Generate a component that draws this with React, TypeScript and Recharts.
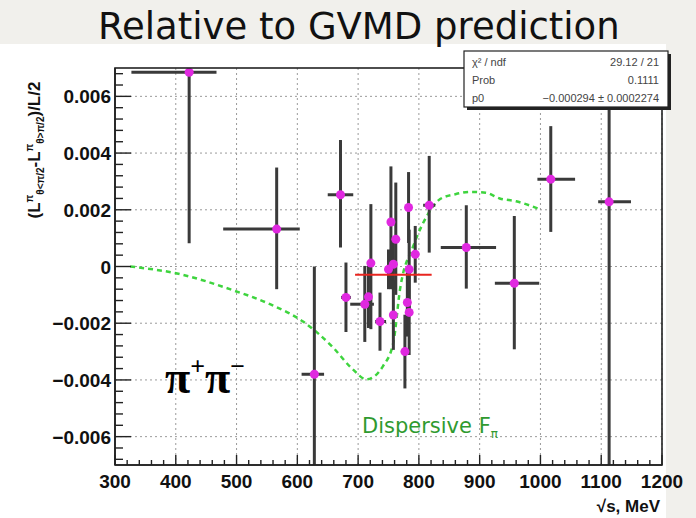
import React from 'react';
import { ComposedChart, Scatter, Line, XAxis, YAxis, CartesianGrid, ErrorBar } from 'recharts';

// measured points: sqrt(s) in MeV, relative asymmetry, asymmetric errors
const massX = [422, 566, 671, 628, 680, 721, 711, 717, 736, 754, 762, 758, 750, 758, 783, 781, 784, 777, 794, 784, 817, 878, 957, 1017, 1113];
const asym = [0.00685, 0.00132, 0.00253, -0.0038, -0.00109, 0.00012, -0.00133, -0.00107, -0.00194, 0.00157, 0.00096, 0.00008, -0.0001, -0.00171, 0.00208, -0.00127, -0.00162, -0.003, 0.00043, -0.0001, 0.00216, 0.00067, -0.00059, 0.00308, 0.00228];
const xErrLo = [95, 88, 21, 21, 8, 6, 24, 5, 8, 4, 4, 4, 4, 4, 4, 4, 4, 4, 6, 4, 10, 42, 32, 22, 18];
const xErrHi = [45, 38, 21, 16, 8, 6, 15, 5, 10, 4, 4, 4, 4, 4, 4, 4, 4, 4, 6, 4, 10, 49, 41, 40, 36];
const yErrLo = [0.00603, 0.00212, 0.00186, 0.0032, 0.00122, 0.00233, 0.00133, 0.0011, 0.00103, 0.00237, 0.00196, 0.0009, 0.0007, 0.00123, 0.00125, 0.0012, 0.0015, 0.0013, 0.001, 0.0014, 0.00167, 0.00145, 0.00233, 0.00186, 0.00928];
const yErrHi = [0.00015, 0.00217, 0.00193, 0.0038, 0.00123, 0.00208, 0.00135, 0.0011, 0.00102, 0.00196, 0.002, 0.0009, 0.0007, 0.00123, 0.00125, 0.0012, 0.0015, 0.0013, 0.001, 0.0014, 0.00174, 0.00149, 0.00237, 0.00187, 0.00472];

// dispersive F_pi prediction (green dashed)
const curveX = [325, 407, 489, 555, 610, 659, 690, 714, 741, 758, 769, 791, 815, 835, 860, 884, 910, 933, 960, 998];
const curveY = [0, -0.00027, -0.0008, -0.00133, -0.00195, -0.00286, -0.0036, -0.00398, -0.00351, -0.00268, -0.0008, 0.00073, 0.00185, 0.00238, 0.00255, 0.00263, 0.0026, 0.0024, 0.0023, 0.00203];

// constant fit p0
const fitRange = [695, 821];
const fitP0 = -0.000294;

const xMajor = [300, 400, 500, 600, 700, 800, 900, 1000, 1100, 1200];
const yMajor = [-0.006, -0.004, -0.002, 0, 0.002, 0.004, 0.006];

const statsRows = [
  ['χ² / ndf', '29.12 / 21'],
  ['Prob', '0.1111'],
  ['p0', '−0.000294 ± 0.0002274'],
];

const xMinor: number[] = [];
for (let v = 300; v <= 1200; v += 20) xMinor.push(v);
const yMinor: number[] = [];
for (let i = -17; i <= 17; i++) yMinor.push(Math.round(i * 4) / 10000);

const points = massX.map((x, i) => ({ x, y: asym[i], ex: [xErrLo[i], xErrHi[i]], ey: [yErrLo[i], yErrHi[i]] }));
const curve = curveX.map((x, i) => ({ x, y: curveY[i] }));
const fitLine = fitRange.map((x) => ({ x, y: fitP0 }));

const isMajorY = (v: number) => yMajor.some((m) => Math.abs(m - v) < 1e-9);
const fmtY = (v: number) => (Math.abs(v) < 1e-9 ? '0' : (v < 0 ? '−' : '') + Math.abs(v).toFixed(3));

const tickFont = { fontFamily: 'Liberation Sans, Arial, sans-serif', fontWeight: 700, fontSize: 19, fill: '#111' };

const YTick = (props: any) => {
  const { x, y, payload } = props;
  const major = isMajorY(payload.value);
  return (
    <g>
      <line x1={x} x2={x + (major ? 16 : 8)} y1={y} y2={y} stroke="#222" strokeWidth={1.4} />
      {major && (
        <text x={x - 4} y={y + 7} textAnchor="end" {...tickFont}>
          {fmtY(payload.value)}
        </text>
      )}
    </g>
  );
};

const XTick = (props: any) => {
  const { x, y, payload } = props;
  const major = xMajor.includes(payload.value);
  return (
    <g>
      <line x1={x} x2={x} y1={y} y2={y - (major ? 10 : 5)} stroke="#222" strokeWidth={1.4} />
      {major && (
        <text x={x} y={y + 23} textAnchor="middle" {...tickFont}>
          {payload.value}
        </text>
      )}
    </g>
  );
};

const Marker = (props: any) => <circle cx={props.cx} cy={props.cy} r={4.5} fill="#e028e0" />;

export default function App() {
  return (
    <div style={{ position: 'absolute', left: 0, top: 0, width: 696, height: 518, background: '#f1f0ec', overflow: 'hidden' }}>
      <div style={{ position: 'absolute', left: 0, top: 44, width: 666, height: 474, background: '#fff' }} />
      <div style={{ position: 'absolute', left: 0, top: 0 }}>
        <ComposedChart width={696} height={518} margin={{ top: 68, right: 34, bottom: 0, left: 0 }}>
          <CartesianGrid
            stroke="#9a9a9a"
            strokeDasharray="2 3"
            horizontalValues={yMajor}
            verticalValues={xMajor}
          />
          <XAxis
            dataKey="x"
            type="number"
            domain={[300, 1200]}
            allowDataOverflow
            ticks={xMinor}
            interval={0}
            tickSize={0}
            tickMargin={0}
            height={53}
            tick={<XTick />}
            axisLine={{ stroke: '#222', strokeWidth: 1.6 }}
          />
          <YAxis
            dataKey="y"
            type="number"
            domain={[-0.007, 0.007]}
            allowDataOverflow
            ticks={yMinor}
            interval={0}
            tickSize={0}
            tickMargin={0}
            width={115}
            tick={<YTick />}
            axisLine={{ stroke: '#222', strokeWidth: 1.6 }}
          />
          <Line
            data={curve}
            dataKey="y"
            type="monotone"
            stroke="#3ed43e"
            strokeWidth={2.5}
            strokeDasharray="5 4"
            dot={false}
            isAnimationActive={false}
          />
          <Scatter data={points} dataKey="y" shape={<Marker />} isAnimationActive={false}>
            <ErrorBar dataKey="ex" direction="x" width={0} stroke="#3a3a3a" strokeWidth={3} />
            <ErrorBar dataKey="ey" direction="y" width={0} stroke="#3a3a3a" strokeWidth={3} />
          </Scatter>
          <Line data={fitLine} dataKey="y" type="linear" stroke="#e8251f" strokeWidth={2} dot={false} isAnimationActive={false} />
        </ComposedChart>
      </div>
      <svg width={696} height={518} style={{ position: 'absolute', left: 0, top: 0, pointerEvents: 'none' }}>
        {/* top frame + right frame */}
        <rect x={115} y={68} width={547} height={397} fill="none" stroke="#222" strokeWidth={1.6} />
        <text x={98} y={39} fontFamily="DejaVu Sans, sans-serif" fontSize={37} fill="#111">
          Relative to GVMD prediction
        </text>
        {/* stats box */}
        <rect x={467} y={54} width={204} height={56} fill="#222" />
        <rect x={464} y={51} width={204} height={56} fill="#fff" stroke="#222" strokeWidth={1.2} />
        {statsRows.map((r, i) => (
          <g key={i} fontFamily="Liberation Sans, Arial, sans-serif" fontSize={11} fill="#444">
            <text x={472} y={66 + i * 18}>{r[0]}</text>
            <text x={659} y={66 + i * 18} textAnchor="end">{r[1]}</text>
          </g>
        ))}
        {/* y axis title */}
        <text
          transform="translate(40,150) rotate(-90)"
          textAnchor="middle"
          fontFamily="Liberation Sans, Arial, sans-serif"
          fontWeight={700}
          fontSize={17}
          fill="#111"
        >
          (L<tspan fontSize={10} dy={-7}>π</tspan>
          <tspan fontSize={10} dy={11}>θ&lt;π/2</tspan>
          <tspan dy={-4}>-L</tspan>
          <tspan fontSize={10} dy={-7}>π</tspan>
          <tspan fontSize={10} dy={11}>θ&gt;π/2</tspan>
          <tspan dy={-4}>)/L/2</tspan>
        </text>
        <text x={660} y={512} textAnchor="end" fontFamily="Liberation Sans, Arial, sans-serif" fontWeight={700} fontSize={17} fill="#111">
          √s, MeV
        </text>
        <text x={165} y={393} fontFamily="Liberation Serif, serif" fontWeight={900} fontSize={46} fill="#000">
          π<tspan fontSize={26} dy={-18}>+</tspan>
          <tspan dy={18}>π</tspan>
          <tspan fontSize={26} dy={-18}>−</tspan>
        </text>
        <text x={362} y={433} fontFamily="DejaVu Sans, sans-serif" fontSize={21} fill="#2f9a2f">
          Dispersive F<tspan fontSize={12} dy={5}>π</tspan>
        </text>
      </svg>
    </div>
  );
}
